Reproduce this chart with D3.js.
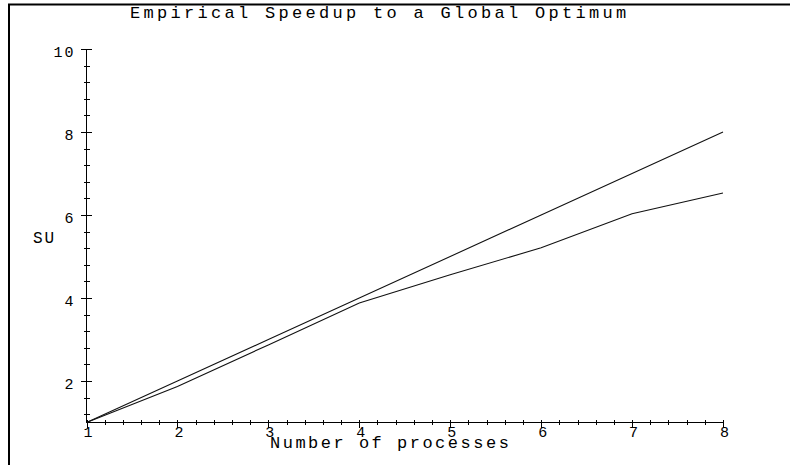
<!DOCTYPE html>
<html>
<head>
<meta charset="utf-8">
<script src="https://cdn.jsdelivr.net/npm/d3@7"></script>
<style>
  body { margin: 0; background: #fff; }
  text { font-family: 'Liberation Mono', 'Courier New', monospace; fill: #000; }
  .axis path, .axis line { stroke: #000; stroke-width: 1; shape-rendering: crispEdges; }
  .axis .domain { display: none; }
</style>
</head>
<body>
<script>
const processes = [1, 2, 3, 4, 5, 6, 7, 8]
const idealSpeedup = [1, 2, 3, 4, 5, 6, 7, 8]
const empiricalSpeedup = [1, 1.87, 2.87, 3.88, 4.56, 5.21, 6.03, 6.53]
const xMajorTicks = [1, 2, 3, 4, 5, 6, 7, 8]
const yMajorTicks = [2, 4, 6, 8, 10]
const title = 'Empirical Speedup to a Global Optimum'
const xTitle = 'Number of processes'
const yTitle = 'SU'

function drawChart() {
  const svgWidth = 790, svgHeight = 465

  const svg = d3.select('body').append('svg')
    .attr('width', svgWidth)
    .attr('height', svgHeight)

  // frame: only top and left edges show
  svg.append('path')
    .attr('d', 'M9,465 V4.5 H790')
    .attr('fill', 'none')
    .attr('stroke', '#000')
    .attr('stroke-width', 2)

  const x = d3.scaleLinear().domain([1, 8]).range([86.5, 723])
  const y = d3.scaleLinear().domain([1, 10]).range([422.5, 49])

  // minor tick positions
  const xMinor = d3.range(10, 81, 2).map(v => v / 10).filter(v => !xMajorTicks.includes(v))
  const yMinor = d3.range(12, 101, 4).map(v => v / 10).filter(v => !yMajorTicks.includes(v))

  // x axis
  const gx = svg.append('g').attr('class', 'axis')
    .attr('transform', 'translate(0,' + y(1) + ')')
  gx.append('line').attr('x1', x(1)).attr('x2', x(8))
  gx.selectAll('.minor').data(xMinor).enter().append('line')
    .attr('x1', d => Math.round(x(d)) + 0.5).attr('x2', d => Math.round(x(d)) + 0.5)
    .attr('y1', -2.5).attr('y2', 2.5)
  gx.call(d3.axisBottom(x).tickValues(xMajorTicks).tickSize(5).tickPadding(4).tickFormat(d3.format('d')))
  gx.selectAll('.tick line').attr('y1', -3)
  gx.selectAll('.tick text')
    .attr('font-size', 15).attr('letter-spacing', 2).attr('dx', 2).attr('dy', '0.38em')

  // y axis
  const gy = svg.append('g').attr('class', 'axis')
    .attr('transform', 'translate(' + x(1) + ',0)')
  gy.append('line').attr('y1', y(1)).attr('y2', y(10))
  gy.selectAll('.minor').data(yMinor).enter().append('line')
    .attr('y1', d => Math.round(y(d)) + 0.5).attr('y2', d => Math.round(y(d)) + 0.5)
    .attr('x1', -3).attr('x2', 3.5)
  gy.call(d3.axisLeft(y).tickValues(yMajorTicks).tickSize(6).tickPadding(5).tickFormat(d3.format('d')))
  gy.selectAll('.tick line').attr('x1', 5)
  gy.selectAll('.tick text')
    .attr('font-size', 15).attr('letter-spacing', 2).attr('dy', '0.5em')

  // lines
  const line = d3.line()
    .x((d, i) => x(processes[i]))
    .y(d => y(d))

  svg.append('path')
    .datum(idealSpeedup)
    .attr('fill', 'none')
    .attr('stroke', '#111')
    .attr('stroke-width', 1.1)
    .attr('d', line)

  svg.append('path')
    .datum(empiricalSpeedup)
    .attr('fill', 'none')
    .attr('stroke', '#111')
    .attr('stroke-width', 1.1)
    .attr('d', line)

  // titles
  svg.append('text')
    .attr('x', 130).attr('y', 18)
    .attr('font-size', 17).attr('letter-spacing', 3.3)
    .text(title)

  svg.append('text')
    .attr('x', 270).attr('y', 448)
    .attr('font-size', 17).attr('letter-spacing', 2.5)
    .text(xTitle)

  svg.append('text')
    .attr('x', 33).attr('y', 243)
    .attr('font-size', 16).attr('letter-spacing', 2)
    .text(yTitle)
}

drawChart()
</script>
</body>
</html>
